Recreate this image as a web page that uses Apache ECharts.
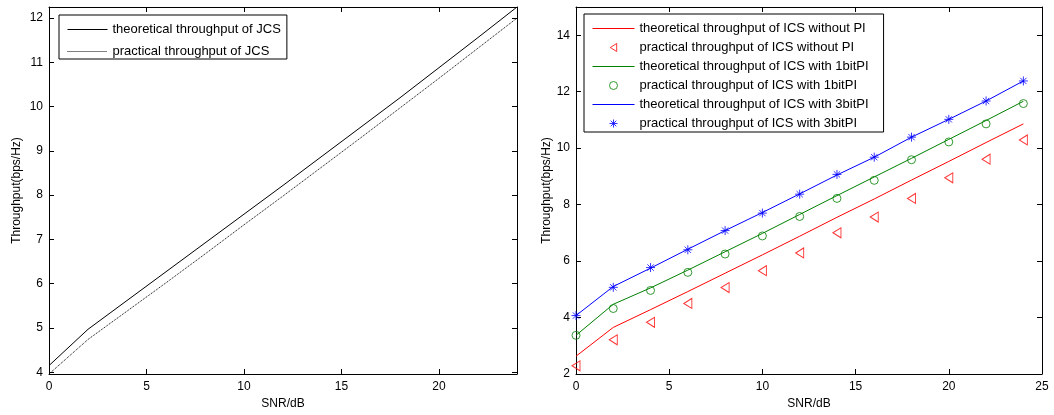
<!DOCTYPE html>
<html>
<head>
<meta charset="utf-8">
<script src="https://cdn.jsdelivr.net/npm/echarts@6/dist/echarts.min.js"></script>
<style>
html,body{margin:0;padding:0;background:#fff;}
#chart{width:1054px;height:415px;}
</style>
</head>
<body>
<div id="chart"></div>
<script>
// ---- data ----
var snr = [0, 2, 4, 6, 8, 10, 12, 14, 16, 18, 20, 22, 24];
var jcsTheory = [4.15, 4.97, 5.62, 6.27, 6.92, 7.57, 8.22, 8.88, 9.54, 10.20, 10.88, 11.56, 12.25];
var jcsPractical = [3.96, 4.74, 5.38, 6.02, 6.67, 7.33, 7.98, 8.64, 9.30, 9.97, 10.64, 11.32, 12.00];
var icsNoPiTheory = [2.63, 3.65, 4.28, 4.92, 5.57, 6.22, 6.88, 7.55, 8.20, 8.87, 9.53, 10.20, 10.86];
var icsNoPiPractical = [2.29, 3.21, 3.83, 4.50, 5.06, 5.66, 6.29, 7.00, 7.56, 8.22, 8.95, 9.61, 10.29];
var ics1bitTheory = [3.37, 4.47, 5.05, 5.68, 6.33, 6.98, 7.65, 8.32, 8.98, 9.64, 10.31, 10.98, 11.66];
var ics1bitPractical = [3.37, 4.32, 4.96, 5.60, 6.25, 6.89, 7.58, 8.22, 8.86, 9.59, 10.22, 10.86, 11.58];
var ics3bitTheory = [4.07, 5.10, 5.75, 6.42, 7.08, 7.72, 8.38, 9.05, 9.68, 10.39, 11.02, 11.67, 12.38];
var ics3bitPractical = [4.07, 5.07, 5.77, 6.40, 7.08, 7.70, 8.37, 9.07, 9.68, 10.39, 11.02, 11.67, 12.38];

var namesLeft = ['theoretical throughput of JCS', 'practical throughput of JCS'];
var namesRight = [
  'theoretical throughput of ICS without PI',
  'practical throughput of ICS without PI',
  'theoretical throughput of ICS with 1bitPI',
  'practical throughput of ICS with 1bitPI',
  'theoretical throughput of ICS with 3bitPI',
  'practical throughput of ICS with 3bitPI'
];
var xLabel = 'SNR/dB';
var yLabel = 'Throughput(bps/Hz)';

function pairs(ys) { return snr.map(function (x, i) { return [x, ys[i]]; }); }

var FONT = 'Liberation Sans, Arial, sans-serif';
var RED = '#ff0000', GREEN = '#008000', BLUE = '#0000ff';

function xAx(gi, pos, min, max, labels) {
  return {
    type: 'value', gridIndex: gi, position: pos, min: min, max: max, interval: 5,
    name: labels ? xLabel : '', nameLocation: 'middle', nameGap: 24,
    nameTextStyle: { color: '#000', fontFamily: FONT, fontSize: 12 },
    axisLine: { show: true, onZero: false, lineStyle: { color: '#000', width: 1 } },
    axisTick: { show: true, inside: true, length: 5, lineStyle: { color: '#000' } },
    axisLabel: { show: labels, color: '#000', fontFamily: FONT, fontSize: 12, margin: 7, showMaxLabel: max % 5 === 0 },
    splitLine: { show: false }
  };
}
function yAx(gi, pos, min, max, step, labels, gap, fixedInterval) {
  var a = {
    type: 'value', gridIndex: gi, position: pos, min: min, max: max,
    name: labels ? yLabel : '', nameLocation: 'middle', nameGap: gap,
    nameTextStyle: { color: '#000', fontFamily: FONT, fontSize: 12 },
    axisLine: { show: true, onZero: false, lineStyle: { color: '#000', width: 1 } },
    axisTick: { show: true, inside: true, length: 5, lineStyle: { color: '#000' } },
    axisLabel: { show: labels, color: '#000', fontFamily: FONT, fontSize: 12, margin: 6, showMinLabel: min % step === 0, showMaxLabel: false },
    splitLine: { show: false }
  };
  if (fixedInterval) { a.interval = step; } else { a.minInterval = step; a.maxInterval = step; a.splitNumber = 8; }
  return a;
}

var starPath = 'path://M5,0L5,10M0,5L10,5M1.5,1.5L8.5,8.5M1.5,8.5L8.5,1.5';
var triLeftPath = 'path://M0,5L8,0L8,10Z';

function legendItems(names, isLine) {
  return names.map(function (n, i) {
    return isLine[i] ? { name: n, itemStyle: { opacity: 0 }, lineStyle: { width: 1 } } : { name: n, itemStyle: { borderWidth: 1 } };
  });
}

var option = {
  animation: false,
  backgroundColor: '#fff',
  grid: [
    { left: 49, top: 7, width: 468, height: 369, show: false },
    { left: 576, top: 7, width: 466, height: 369, show: false }
  ],
  xAxis: [
    xAx(0, 'bottom', 0, 24, true),
    xAx(0, 'top', 0, 24, false),
    xAx(1, 'bottom', 0, 25, true),
    xAx(1, 'top', 0, 25, false)
  ],
  yAxis: [
    yAx(0, 'left', 3.96, 12.25, 1, true, 26, false),
    yAx(0, 'right', 3.96, 12.25, 1, false, 0, false),
    yAx(1, 'left', 2, 15, 2, true, 21, true),
    yAx(1, 'right', 2, 15, 2, false, 0, true)
  ],
  legend: [
    {
      data: legendItems(namesLeft, [true, true]), orient: 'vertical', left: 59, top: 15,
      itemWidth: 40, itemHeight: 8, itemGap: 9,
      padding: [8, 6, 1, 8],
      lineStyle: { width: 1 },
      backgroundColor: '#fff', borderColor: '#000', borderWidth: 1, borderRadius: 0,
      textStyle: { color: '#000', fontFamily: FONT, fontSize: 13, lineHeight: 12 },
      selectedMode: false
    },
    {
      data: legendItems(namesRight, [true, false, true, false, true, false]), orient: 'vertical', left: 584, top: 14,
      itemWidth: 42, itemHeight: 8, itemGap: 6,
      padding: [8, 15, 2, 8],
      lineStyle: { width: 1 },
      backgroundColor: '#fff', borderColor: '#000', borderWidth: 1, borderRadius: 0,
      textStyle: { color: '#000', fontFamily: FONT, fontSize: 13, lineHeight: 12 },
      selectedMode: false
    }
  ],
  series: [
    { name: namesLeft[0], type: 'line', xAxisIndex: 0, yAxisIndex: 0, data: pairs(jcsTheory), symbol: 'none',
      lineStyle: { color: '#000', width: 1 }, itemStyle: { color: '#000' } },
    { name: namesLeft[1], type: 'line', xAxisIndex: 0, yAxisIndex: 0, data: pairs(jcsPractical), symbol: 'none',
      lineStyle: { color: '#000', width: 1, type: [1, 1] }, itemStyle: { color: '#000' } },

    { name: namesRight[0], type: 'line', xAxisIndex: 2, yAxisIndex: 2, data: pairs(icsNoPiTheory), symbol: 'none',
      lineStyle: { color: RED, width: 1 }, itemStyle: { color: RED } },
    { name: namesRight[1], type: 'scatter', xAxisIndex: 2, yAxisIndex: 2, data: pairs(icsNoPiPractical),
      symbol: triLeftPath, symbolSize: [8, 10], itemStyle: { color: 'none', borderColor: RED, borderWidth: 1 } },
    { name: namesRight[2], type: 'line', xAxisIndex: 2, yAxisIndex: 2, data: pairs(ics1bitTheory), symbol: 'none',
      lineStyle: { color: GREEN, width: 1 }, itemStyle: { color: GREEN } },
    { name: namesRight[3], type: 'scatter', xAxisIndex: 2, yAxisIndex: 2, data: pairs(ics1bitPractical),
      symbol: 'circle', symbolSize: 8, itemStyle: { color: 'none', borderColor: GREEN, borderWidth: 1 } },
    { name: namesRight[4], type: 'line', xAxisIndex: 2, yAxisIndex: 2, data: pairs(ics3bitTheory), symbol: 'none',
      lineStyle: { color: BLUE, width: 1 }, itemStyle: { color: BLUE } },
    { name: namesRight[5], type: 'scatter', xAxisIndex: 2, yAxisIndex: 2, data: pairs(ics3bitPractical),
      symbol: starPath, symbolSize: 9, itemStyle: { color: 'none', borderColor: BLUE, borderWidth: 1 } }
  ]
};

var chart = echarts.init(document.getElementById('chart'), null, { renderer: 'canvas' });
chart.setOption(option);
</script>
</body>
</html>
